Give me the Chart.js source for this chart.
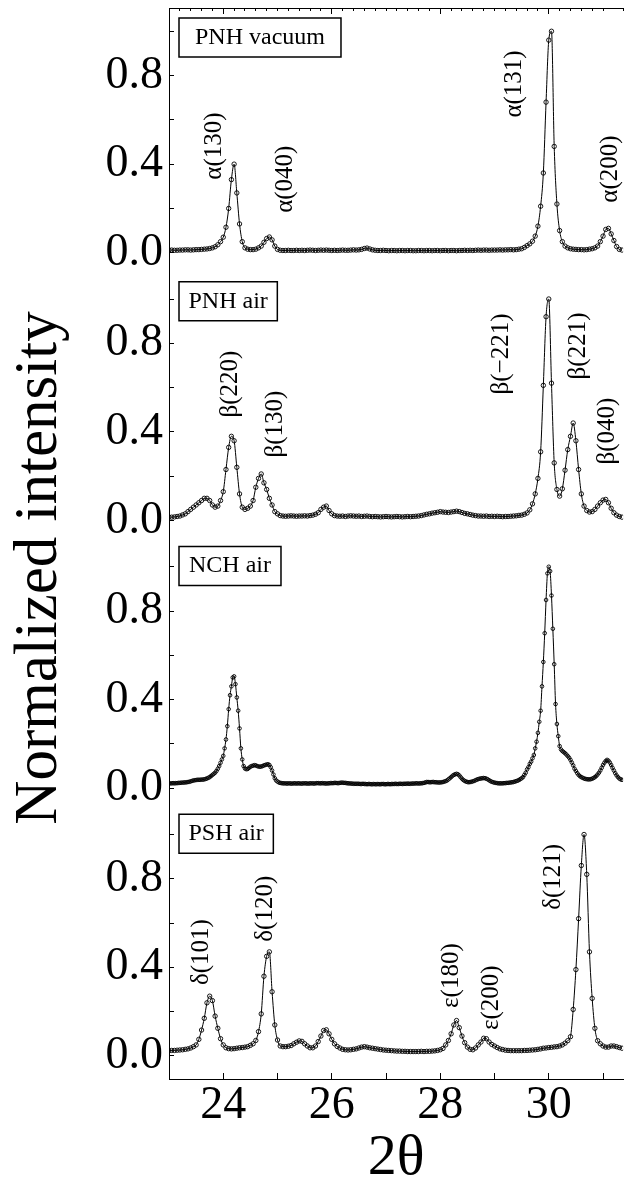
<!DOCTYPE html>
<html>
<head>
<meta charset="utf-8">
<title>Normalized intensity vs 2θ</title>
<script src="https://cdn.jsdelivr.net/npm/chart.js@4.4.1/dist/chart.umd.min.js"></script>
<style>
  html, body { margin: 0; padding: 0; background: #fff; }
  #wrap { width: 628px; height: 1184px; }
</style>
</head>
<body>
<div id="wrap"><canvas id="xrd" width="628" height="1184"></canvas></div>
<script>
// -------------------------
// Data
// -------------------------
const panelNames = ['PNH vacuum', 'PNH air', 'NCH air', 'PSH air'];

// every scan starts at 2θ = 23; NCH air was sampled twice as densely
const scanStart = 23.0;
const scanStep = [0.05, 0.05, 0.025, 0.05];

const pnhVacuum = [
    0.012, 0.012, 0.011, 0.011, 0.012, 0.012, 0.013, 0.013, 0.012, 0.013,
    0.014, 0.014, 0.015, 0.016, 0.017, 0.019, 0.022, 0.027, 0.036, 0.05,
    0.07, 0.115, 0.2, 0.33, 0.4, 0.27, 0.13, 0.05, 0.022, 0.016,
    0.014, 0.014, 0.016, 0.022, 0.03, 0.047, 0.064, 0.071, 0.058, 0.03,
    0.015, 0.011, 0.01, 0.01, 0.011, 0.01, 0.01, 0.011, 0.01, 0.011,
    0.01, 0.011, 0.012, 0.011, 0.01, 0.011, 0.012, 0.011, 0.012, 0.011,
    0.01, 0.011, 0.01, 0.011, 0.012, 0.011, 0.011, 0.012, 0.013, 0.012,
    0.013, 0.015, 0.019, 0.021, 0.017, 0.013, 0.011, 0.01, 0.01, 0.011,
    0.01, 0.009, 0.01, 0.01, 0.009, 0.01, 0.01, 0.009, 0.01, 0.01,
    0.009, 0.009, 0.01, 0.01, 0.009, 0.01, 0.01, 0.009, 0.01, 0.01,
    0.009, 0.01, 0.01, 0.009, 0.01, 0.01, 0.009, 0.01, 0.01, 0.011,
    0.01, 0.011, 0.01, 0.011, 0.012, 0.011, 0.012, 0.012, 0.011, 0.012,
    0.012, 0.012, 0.013, 0.012, 0.013, 0.013, 0.014, 0.013, 0.014, 0.016,
    0.018, 0.024, 0.032, 0.04, 0.052, 0.075, 0.12, 0.21, 0.36, 0.68,
    0.96, 1.0, 0.48, 0.22, 0.1, 0.05, 0.03, 0.022, 0.018, 0.016,
    0.015, 0.014, 0.014, 0.013, 0.014, 0.016, 0.018, 0.022, 0.03, 0.05,
    0.075, 0.105, 0.11, 0.085, 0.055, 0.028, 0.015, 0.012
];

const pnhAir = [
    0.015, 0.015, 0.016, 0.018, 0.02, 0.025, 0.03, 0.04, 0.05, 0.06,
    0.07, 0.08, 0.09, 0.1, 0.1, 0.09, 0.07, 0.06, 0.065, 0.09,
    0.13, 0.23, 0.33, 0.38, 0.36, 0.24, 0.12, 0.06, 0.05, 0.055,
    0.065, 0.09, 0.15, 0.19, 0.21, 0.17, 0.14, 0.1, 0.07, 0.04,
    0.03, 0.022, 0.02, 0.019, 0.02, 0.021, 0.02, 0.019, 0.02, 0.02,
    0.021, 0.02, 0.022, 0.024, 0.028, 0.035, 0.05, 0.06, 0.065, 0.045,
    0.03, 0.022, 0.02, 0.019, 0.02, 0.018, 0.02, 0.021, 0.02, 0.019,
    0.02, 0.018, 0.019, 0.02, 0.018, 0.017, 0.018, 0.017, 0.016, 0.017,
    0.018, 0.017, 0.016, 0.017, 0.018, 0.017, 0.016, 0.017, 0.018, 0.017,
    0.018, 0.019, 0.02, 0.022, 0.025, 0.028, 0.03, 0.033, 0.035, 0.037,
    0.04, 0.038, 0.037, 0.036, 0.038, 0.04, 0.042, 0.04, 0.036, 0.032,
    0.03, 0.027, 0.024, 0.022, 0.02, 0.02, 0.019, 0.02, 0.018, 0.019,
    0.018, 0.019, 0.018, 0.017, 0.018, 0.018, 0.019, 0.02, 0.021, 0.023,
    0.024, 0.028, 0.034, 0.048, 0.075, 0.12, 0.19, 0.31, 0.61, 0.92,
    1.0, 0.62, 0.26, 0.14, 0.11, 0.143, 0.227, 0.32, 0.38, 0.44,
    0.36, 0.23, 0.12, 0.065, 0.045, 0.038, 0.04, 0.05, 0.065, 0.08,
    0.092, 0.095, 0.08, 0.055, 0.035, 0.024, 0.018, 0.015
];

const nchAir = [
    0.022, 0.022, 0.022, 0.023, 0.022, 0.023, 0.023, 0.024, 0.024, 0.025, 0.025, 0.026, 0.026, 0.027, 0.028, 0.029, 0.031, 0.033, 0.035, 0.036,
    0.037, 0.038, 0.038, 0.038, 0.039, 0.039, 0.04, 0.042, 0.044, 0.047, 0.05, 0.055, 0.06, 0.065, 0.07, 0.078, 0.088, 0.1, 0.115, 0.13,
    0.146, 0.18, 0.22, 0.28, 0.357, 0.42, 0.46, 0.5, 0.505, 0.47, 0.41, 0.35, 0.27, 0.18, 0.13, 0.1, 0.089, 0.086, 0.087, 0.092,
    0.097, 0.1, 0.102, 0.104, 0.103, 0.1, 0.098, 0.097, 0.098, 0.1, 0.103, 0.105, 0.107, 0.108, 0.105, 0.095, 0.08, 0.062, 0.045, 0.035,
    0.03, 0.026, 0.024, 0.023, 0.022, 0.022, 0.022, 0.021, 0.022, 0.022, 0.021, 0.021, 0.022, 0.022, 0.021, 0.022, 0.022, 0.021, 0.021, 0.022,
    0.022, 0.022, 0.021, 0.021, 0.022, 0.022, 0.022, 0.021, 0.022, 0.023, 0.023, 0.022, 0.022, 0.023, 0.022, 0.022, 0.021, 0.022, 0.022, 0.023,
    0.023, 0.023, 0.024, 0.024, 0.023, 0.023, 0.024, 0.025, 0.025, 0.024, 0.024, 0.023, 0.022, 0.022, 0.021, 0.021, 0.02, 0.02, 0.02, 0.02,
    0.02, 0.019, 0.019, 0.02, 0.019, 0.019, 0.018, 0.019, 0.019, 0.018, 0.018, 0.019, 0.018, 0.018, 0.019, 0.018, 0.018, 0.019, 0.019, 0.018,
    0.018, 0.019, 0.019, 0.018, 0.019, 0.019, 0.019, 0.02, 0.019, 0.019, 0.02, 0.02, 0.019, 0.02, 0.02, 0.02, 0.021, 0.02, 0.02, 0.021,
    0.021, 0.021, 0.022, 0.022, 0.021, 0.022, 0.022, 0.023, 0.024, 0.026, 0.028, 0.028, 0.027, 0.027, 0.028, 0.028, 0.027, 0.027, 0.026, 0.026,
    0.026, 0.027, 0.028, 0.03, 0.032, 0.035, 0.04, 0.045, 0.05, 0.056, 0.06, 0.063, 0.065, 0.063, 0.058, 0.05, 0.043, 0.037, 0.033, 0.03,
    0.028, 0.027, 0.028, 0.029, 0.031, 0.033, 0.036, 0.039, 0.041, 0.043, 0.044, 0.045, 0.046, 0.045, 0.043, 0.04, 0.036, 0.032, 0.029, 0.027,
    0.025, 0.024, 0.023, 0.022, 0.022, 0.022, 0.022, 0.023, 0.023, 0.024, 0.024, 0.025, 0.026, 0.027, 0.028, 0.03, 0.032, 0.034, 0.037, 0.041,
    0.045, 0.05, 0.06, 0.07, 0.085, 0.095, 0.11, 0.12, 0.135, 0.15, 0.18, 0.21, 0.25, 0.3, 0.35, 0.46, 0.57, 0.7, 0.85, 0.97,
    1.0, 0.98, 0.87, 0.72, 0.56, 0.38, 0.29, 0.235, 0.19, 0.175, 0.168, 0.163, 0.158, 0.152, 0.145, 0.138, 0.128, 0.116, 0.103, 0.088,
    0.078, 0.068, 0.06, 0.054, 0.05, 0.047, 0.044, 0.042, 0.041, 0.04, 0.04, 0.041, 0.043, 0.046, 0.05, 0.055, 0.062, 0.07, 0.08, 0.092,
    0.105, 0.115, 0.123, 0.128, 0.124, 0.116, 0.105, 0.092, 0.08, 0.068, 0.058, 0.05, 0.044, 0.04, 0.038
];

const pshAir = [
    0.024, 0.025, 0.025, 0.026, 0.027, 0.028, 0.03, 0.032, 0.036, 0.042,
    0.05, 0.075, 0.117, 0.17, 0.24, 0.27, 0.25, 0.18, 0.125, 0.078,
    0.05, 0.037, 0.033, 0.032, 0.033, 0.035, 0.037, 0.038, 0.04, 0.042,
    0.048, 0.055, 0.07, 0.11, 0.19, 0.36, 0.45, 0.47, 0.29, 0.14,
    0.072, 0.045, 0.042, 0.042, 0.044, 0.047, 0.055, 0.062, 0.068, 0.066,
    0.055, 0.045, 0.037, 0.037, 0.045, 0.065, 0.09, 0.115, 0.118, 0.1,
    0.075, 0.055, 0.043, 0.036, 0.03, 0.028, 0.027, 0.028, 0.03, 0.032,
    0.036, 0.04, 0.042, 0.04, 0.037, 0.035, 0.033, 0.031, 0.029, 0.027,
    0.026, 0.025, 0.024, 0.023, 0.022, 0.022, 0.021, 0.021, 0.02, 0.02,
    0.02, 0.02, 0.02, 0.021, 0.02, 0.021, 0.021, 0.022, 0.023, 0.025,
    0.028, 0.034, 0.05, 0.07, 0.1, 0.14, 0.16, 0.128, 0.09, 0.06,
    0.04, 0.03, 0.028, 0.036, 0.05, 0.063, 0.08, 0.078, 0.063, 0.052,
    0.045, 0.038, 0.032, 0.029, 0.026, 0.025, 0.024, 0.024, 0.024, 0.024,
    0.024, 0.025, 0.025, 0.026, 0.027, 0.028, 0.03, 0.032, 0.035, 0.036,
    0.038, 0.039, 0.041, 0.042, 0.045, 0.05, 0.058, 0.069, 0.087, 0.21,
    0.39, 0.62, 0.86, 1.0, 0.82, 0.47, 0.26, 0.125, 0.069, 0.055,
    0.045, 0.04, 0.04, 0.045, 0.045, 0.042, 0.038, 0.035
];

const xTicks = [24, 25, 26, 27, 28, 29, 30, 31];
const xTickLabels = [24, 26, 28, 30];
const yTicks = [0, 0.2, 0.4, 0.6, 0.8, 1.0];
const yTickLabels = [0, 0.4, 0.8];

// reflection names per panel, with the 2θ and intensity where each label starts
const peakNames = [
    ['α(130)', 'α(040)', 'α(131)', 'α(200)'],
    ['β(220)', 'β(130)', 'β(−221)', 'β(221)', 'β(040)'],
    [],
    ['δ(101)', 'δ(120)', 'ε(180)', 'ε(200)', 'δ(121)']
];
const peakAt = [
    [23.84, 25.14, 29.36, 31.13],
    [24.14, 24.96, 29.12, 30.55, 31.09],
    [],
    [23.59, 24.78, 28.21, 28.94, 30.09]
];
const peakBase = [
    [0.33, 0.18, 0.61, 0.226],
    [0.465, 0.284, 0.569, 0.637, 0.253],
    [],
    [0.32, 0.516, 0.217, 0.117, 0.66]
];

// -------------------------
// Chart Setup
// -------------------------
const serif = 'Liberation Serif';
Chart.defaults.font.family = serif;
Chart.defaults.color = '#000';

const scans = [pnhVacuum, pnhAir, nchAir, pshAir];
const panelAxes = ['yVac', 'yAir', 'yNch', 'yPsh'];
const boxTop = [10, 6, 3, 3];
const boxPad = [16, 9.5, 10, 9.5];

// fixed axis size, and no extra room for half-labels at the ends
function fixSize(s, w, h) {
    if (w !== null) s.width = w;
    if (h !== null) s.height = h;
    s.paddingTop = 0;
    s.paddingBottom = 0;
    s.paddingLeft = 0;
    s.paddingRight = 0;
}

function panelAxis(weight) {
    return {
        type: 'linear',
        position: 'left',
        stack: 'panels',
        stackWeight: 1,
        weight: weight,
        min: -0.104,
        max: 1.105,
        afterBuildTicks: s => { s.ticks = yTicks.map(v => ({ value: v })); },
        afterFit: s => fixSize(s, 169, null),
        grid: { drawOnChartArea: false, tickLength: -5, tickColor: '#000' },
        border: { color: '#000', width: 1 },
        ticks: {
            autoSkip: false,
            padding: 11,
            font: { size: 46, lineHeight: 1 },
            callback: v => yTickLabels.includes(v) ? v.toFixed(1) : ''
        }
    };
}

const labels = {
    id: 'labels',
    afterDraw(chart) {
        const c = chart.ctx;
        const xs = chart.scales.x;
        const left = chart.chartArea.left;
        c.save();
        c.fillStyle = '#000';
        c.strokeStyle = '#000';

        // sample name boxes
        c.font = '24px "' + serif + '"';
        c.textAlign = 'left';
        c.textBaseline = 'middle';
        c.lineWidth = 1.5;
        panelAxes.forEach((id, i) => {
            const top = chart.scales[id].top + boxTop[i];
            const w = c.measureText(panelNames[i]).width + 2 * boxPad[i];
            c.strokeRect(left + 10, top, w, 39);
            c.fillText(panelNames[i], left + 10 + boxPad[i], top + 19.5);
        });

        // reflection labels, written upwards
        c.font = '25px "' + serif + '"';
        peakNames.forEach((names, i) => {
            const ys = chart.scales[panelAxes[i]];
            names.forEach((t, j) => {
                c.save();
                c.translate(xs.getPixelForValue(peakAt[i][j]), ys.getPixelForValue(peakBase[i][j]));
                c.rotate(-Math.PI / 2);
                c.fillText(t, 0, 0);
                c.restore();
            });
        });

        // shared y title
        c.font = '61px "' + serif + '"';
        c.textAlign = 'center';
        c.textBaseline = 'alphabetic';
        c.translate(56, 568);
        c.rotate(-Math.PI / 2);
        c.fillText('Normalized intensity', 0, 0);
        c.restore();
    }
};

new Chart(document.getElementById('xrd'), {
    type: 'line',
    data: {
        datasets: scans.map((vals, i) => ({
            label: panelNames[i],
            data: vals.map((v, k) => ({ x: scanStart + k * scanStep[i], y: v })),
            yAxisID: panelAxes[i],
            borderColor: '#000',
            borderWidth: 1,
            cubicInterpolationMode: 'monotone',
            pointStyle: 'circle',
            pointRadius: i === 2 ? 1.8 : 2.2,
            pointBorderWidth: 0.9,
            pointBorderColor: '#000',
            pointBackgroundColor: 'rgba(255,255,255,0)'
        }))
    },
    options: {
        responsive: false,
        animation: false,
        devicePixelRatio: 1,
        layout: { padding: 0 },
        plugins: {
            legend: { display: false },
            tooltip: { enabled: false }
        },
        scales: {
            x: {
                type: 'linear',
                position: 'bottom',
                min: 23,
                max: 31.37,
                afterBuildTicks: s => { s.ticks = xTicks.map(v => ({ value: v })); },
                afterFit: s => fixSize(s, null, 105),
                grid: { drawOnChartArea: false, tickLength: -6, tickColor: '#000' },
                border: { color: '#000', width: 1 },
                ticks: {
                    autoSkip: false,
                    maxRotation: 0,
                    padding: 10,
                    font: { size: 46, lineHeight: 1 },
                    callback: v => xTickLabels.includes(v) ? String(v) : ''
                },
                title: {
                    display: true,
                    text: '2θ',
                    font: { size: 58, lineHeight: 1 },
                    padding: { top: 0, bottom: -4 }
                }
            },
            xTop: {
                type: 'linear',
                position: 'top',
                weight: 2,
                min: 23,
                max: 31.37,
                afterFit: s => fixSize(s, null, 8),
                grid: { drawOnChartArea: false, tickLength: -3, tickColor: '#000' },
                border: { color: '#000', width: 1 },
                ticks: { display: false, stepSize: 0.2, maxTicksLimit: 100 }
            },
            xTopMajor: {
                type: 'linear',
                position: 'top',
                weight: 1,
                min: 23,
                max: 31.37,
                afterBuildTicks: s => { s.ticks = xTickLabels.map(v => ({ value: v })); },
                afterFit: s => fixSize(s, null, 0),
                grid: { drawOnChartArea: false, tickLength: -6, tickColor: '#000' },
                border: { display: false },
                ticks: { display: false }
            },
            yVac: panelAxis(4),
            yAir: panelAxis(3),
            yNch: panelAxis(2),
            yPsh: panelAxis(1)
        }
    },
    plugins: [labels]
});
</script>
</body>
</html>
